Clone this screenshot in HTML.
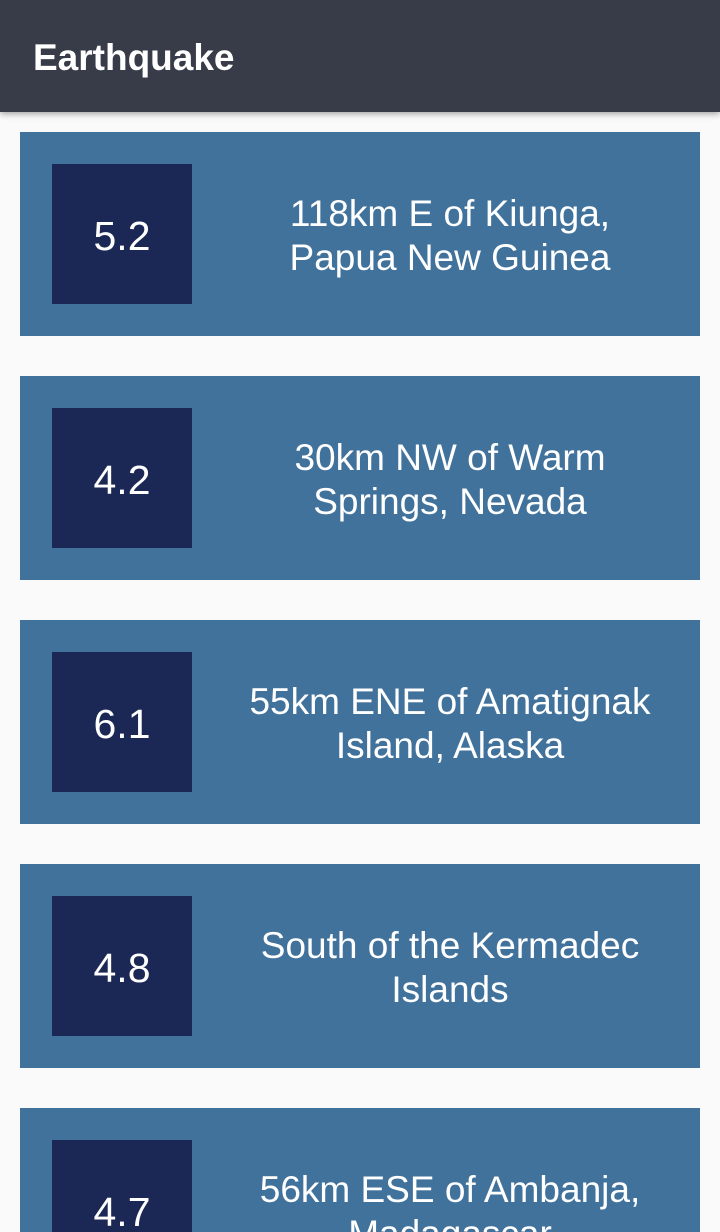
<!DOCTYPE html>
<html><head><meta charset="utf-8"><style>
html,body{margin:0;width:720px;height:1232px;overflow:hidden}
body{background:#fafafa;font-family:"Liberation Sans",sans-serif;position:relative}
.bar{position:absolute;left:0;top:0;width:720px;height:112px;background:#373c48;box-shadow:0 2px 6px rgba(0,0,0,.35);z-index:2}
.bar span{position:absolute;left:33px;top:36px;font-size:37px;font-weight:bold;color:#fff;line-height:44px}
.card{position:absolute;left:20px;width:680px;height:204px;background:#41729c}
.mag{position:absolute;left:32px;top:32px;width:140px;height:140px;background:#1b2855;color:#fff;font-size:41px;display:flex;align-items:center;justify-content:center;padding-top:4px;box-sizing:border-box}
.loc{position:absolute;left:170px;width:520px;top:60px;text-align:center;color:#fff;font-size:37px;line-height:44px}
</style></head><body>
<div class="bar"><span>Earthquake</span></div>
<div class="card" style="top:132px"><div class="mag">5.2</div><div class="loc">118km E of Kiunga,<br>Papua New Guinea</div></div>
<div class="card" style="top:376px"><div class="mag">4.2</div><div class="loc">30km NW of Warm<br>Springs, Nevada</div></div>
<div class="card" style="top:620px"><div class="mag">6.1</div><div class="loc">55km ENE of Amatignak<br>Island, Alaska</div></div>
<div class="card" style="top:864px"><div class="mag">4.8</div><div class="loc">South of the Kermadec<br>Islands</div></div>
<div class="card" style="top:1108px"><div class="mag">4.7</div><div class="loc">56km ESE of Ambanja,<br>Madagascar</div></div>
</body></html>
